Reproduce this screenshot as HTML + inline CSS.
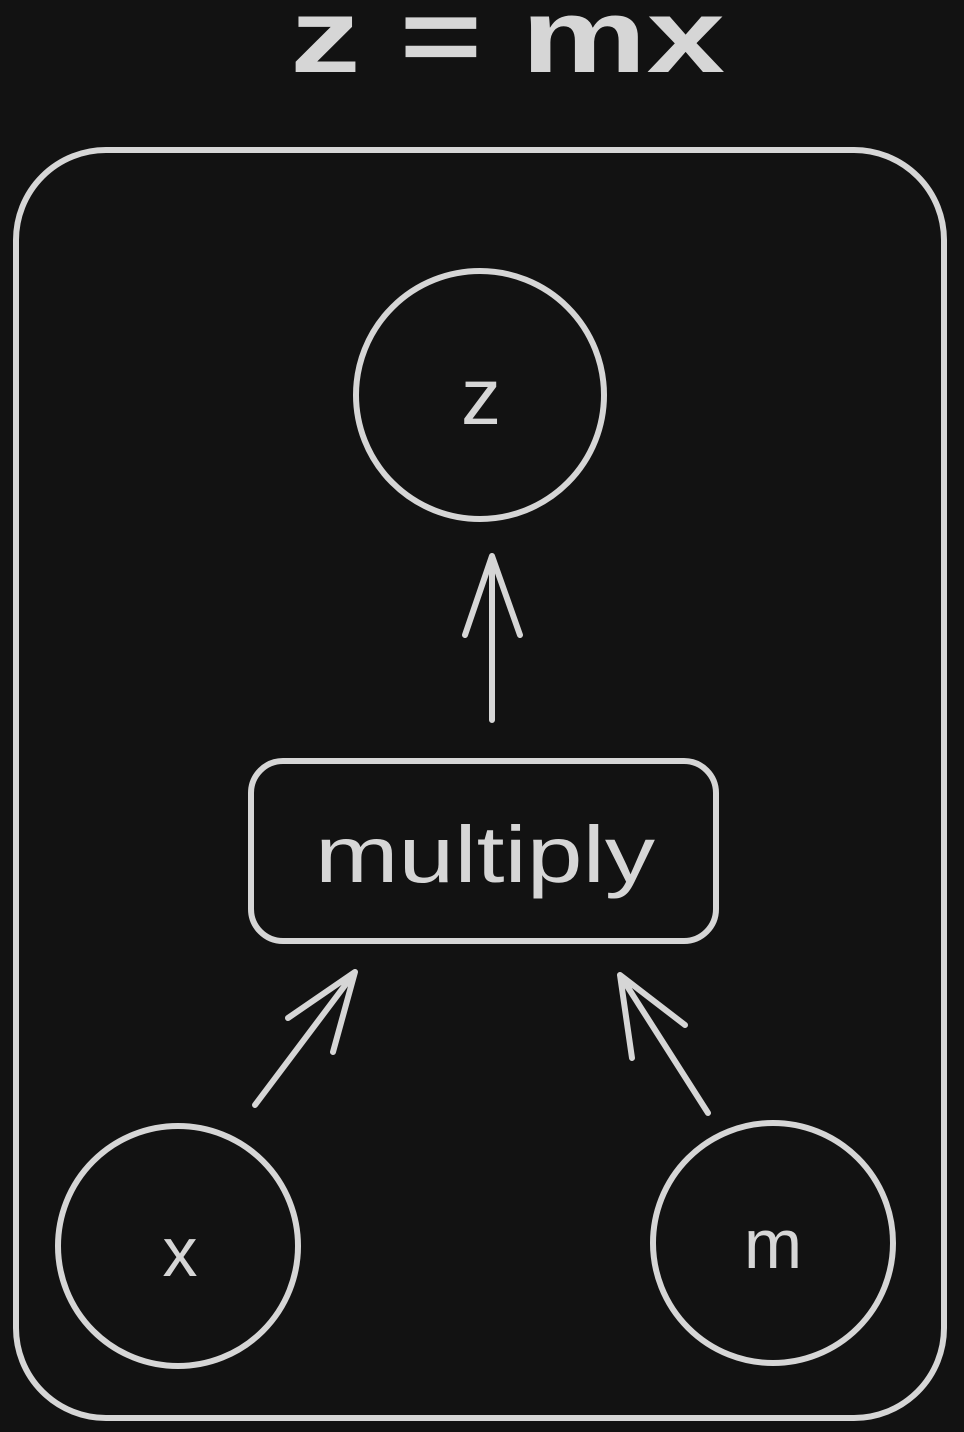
<!DOCTYPE html>
<html><head><meta charset="utf-8"><style>
html,body{margin:0;padding:0;background:#121212;}
svg{display:block}
text{font-family:"Liberation Sans",sans-serif;fill:#d6d6d6;font-weight:normal}
</style></head><body>
<svg width="964" height="1432" viewBox="0 0 964 1432">
<rect width="964" height="1432" fill="#121212"/>
<g fill="none" stroke="#d6d6d6" stroke-width="6" stroke-linecap="round" stroke-linejoin="round">
<rect x="16" y="150" width="928" height="1268" rx="90"/>
<circle cx="480" cy="395" r="124"/>
<g>
<path d="M492 720 L492 556 M492 556 L465 635 M492 556 L520 635"/></g>
<rect x="251" y="761" width="465" height="180" rx="32"/>
<g>
<path d="M255 1105 L355 972 M355 972 L288 1018 M355 972 L333 1052"/></g>
<g>
<path d="M708 1113 L620 975 M620 975 L685 1025 M620 975 L632 1058"/></g>
<circle cx="178" cy="1246" r="120"/>
<circle cx="773" cy="1243" r="120"/>
</g>
<text x="290" y="72" font-size="105" textLength="435" lengthAdjust="spacingAndGlyphs" style="font-weight:bold">z = mx</text>
<text x="481" y="424" font-size="80" text-anchor="middle">z</text>
<text x="485" y="882" font-size="80" text-anchor="middle" textLength="340" lengthAdjust="spacingAndGlyphs">multiply</text>
<text x="180" y="1276" font-size="70" text-anchor="middle">x</text>
<text x="773" y="1268" font-size="70" text-anchor="middle">m</text>
</svg>
</body></html>
